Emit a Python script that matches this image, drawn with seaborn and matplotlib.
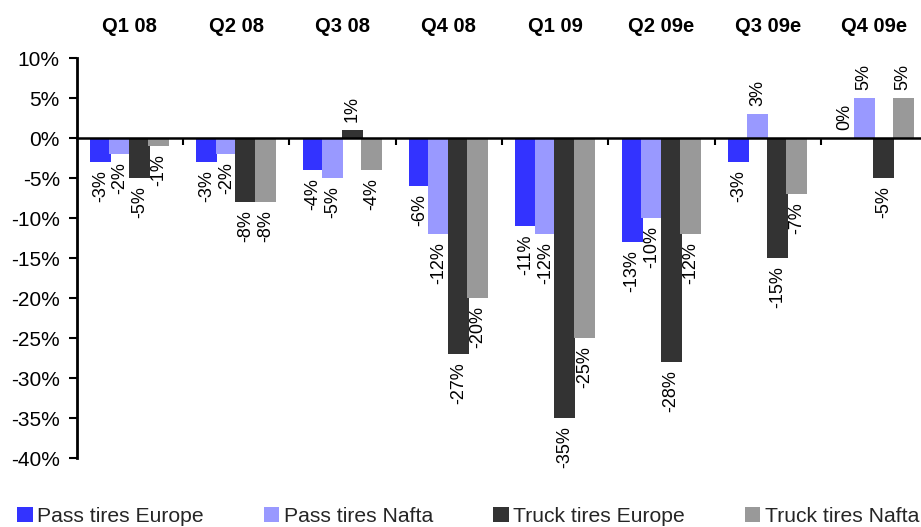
import numpy as np
import pandas as pd
import matplotlib
matplotlib.use("Agg")
import matplotlib.pyplot as plt
import matplotlib.transforms as mtransforms
from matplotlib.patches import Patch
import seaborn as sns

# Quarterly year-on-year change in tire volumes (%)
quarters = ["Q1 08", "Q2 08", "Q3 08", "Q4 08", "Q1 09", "Q2 09e", "Q3 09e", "Q4 09e"]
series = ["Pass tires Europe", "Pass tires Nafta", "Truck tires Europe", "Truck tires Nafta"]
pass_europe = [-3, -3, -4, -6, -11, -13, -3, 0]
pass_nafta = [-2, -2, -5, -12, -12, -10, 3, 5]
truck_europe = [-5, -8, 1, -27, -35, -28, -15, -5]
truck_nafta = [-1, -8, -4, -20, -25, -12, -7, 5]
colors = ["#3333FF", "#9999FF", "#333333", "#999999"]
yticks = [10, 5, 0, -5, -10, -15, -20, -25, -30, -35, -40]

values = [pass_europe, pass_nafta, truck_europe, truck_nafta]
df = pd.DataFrame({
    "quarter": np.repeat([quarters], len(series), axis=0).ravel(),
    "series": np.repeat(series, len(quarters)),
    "value": np.concatenate(values),
})

sns.set_theme(style="white")
plt.rcParams["font.family"] = ["Liberation Sans", "DejaVu Sans"]

fig = plt.figure(figsize=(9.21, 5.27), dpi=100)
ax = fig.add_axes([0.0831, 0.1309, 0.9236, 0.759])

sns.barplot(data=df, x="quarter", y="value", hue="series", order=quarters,
            hue_order=series, palette=colors, width=0.734, dodge=True,
            linewidth=0, saturation=1, errorbar=None, legend=False, ax=ax)

# slightly overlapping bars within each quarter
bar_w = 0.1975
for container in ax.containers:
    for bar in container:
        cx = bar.get_x() + bar.get_width() / 2
        bar.set_x(cx - bar_w / 2)
        bar.set_width(bar_w)

# rotated value labels outside the bar ends
for container, vals in zip(ax.containers, values):
    for bar, v in zip(container, vals):
        cx = bar.get_x() + bar.get_width() / 2
        if v < 0:
            ax.annotate(f"{v}%", xy=(cx, v), xytext=(0, -6), textcoords="offset points",
                        rotation=90, ha="center", va="top", fontsize=13, color="black")
        else:
            ax.annotate(f"{v}%", xy=(cx, v), xytext=(0, 6), textcoords="offset points",
                        rotation=90, ha="center", va="bottom", fontsize=13, color="black")

ax.set_xlim(-0.5, 7.5)
ax.set_ylim(-40, 10)
ax.set_xlabel("")
ax.set_ylabel("")

ax.set_yticks(yticks)
ax.set_yticklabels([f"{t}%" for t in yticks])
ax.tick_params(axis="y", direction="out", length=6, width=1.5, color="black", pad=6,
               left=True, labelsize=15, labelcolor="black")

# quarter names in bold above the plot; group separators on the zero line
ax.set_xticks([])
ax.set_xticks(np.arange(0.5, len(quarters) - 0.5, 1), minor=True)
ax.tick_params(axis="x", which="minor", bottom=True, top=False, direction="out",
               length=5, width=1.5, color="black", labelbottom=False)
top_trans = mtransforms.blended_transform_factory(ax.transData, ax.transAxes)
for i, q in enumerate(quarters):
    ax.annotate(q, xy=(i, 1.0), xycoords=top_trans, xytext=(0, 19),
                textcoords="offset points", ha="center", va="baseline",
                fontsize=14.5, fontweight="bold", color="black", annotation_clip=False)

for side in ["top", "right"]:
    ax.spines[side].set_visible(False)
ax.spines["left"].set_linewidth(2)
ax.spines["left"].set_color("black")
ax.spines["bottom"].set_position(("data", 0))
ax.spines["bottom"].set_linewidth(1.8)
ax.spines["bottom"].set_color("black")
ax.grid(False)

handles = [Patch(facecolor=c, edgecolor="none") for c in colors]
fig.legend(handles, series, loc="lower left", bbox_to_anchor=(17 / 921, 0.0017),
           ncol=4, frameon=False, fontsize=15.2, handlelength=0.75, handleheight=0.75,
           handletextpad=0.2, columnspacing=2.84, borderpad=0, borderaxespad=0)

fig.savefig("out.png", dpi=100)
